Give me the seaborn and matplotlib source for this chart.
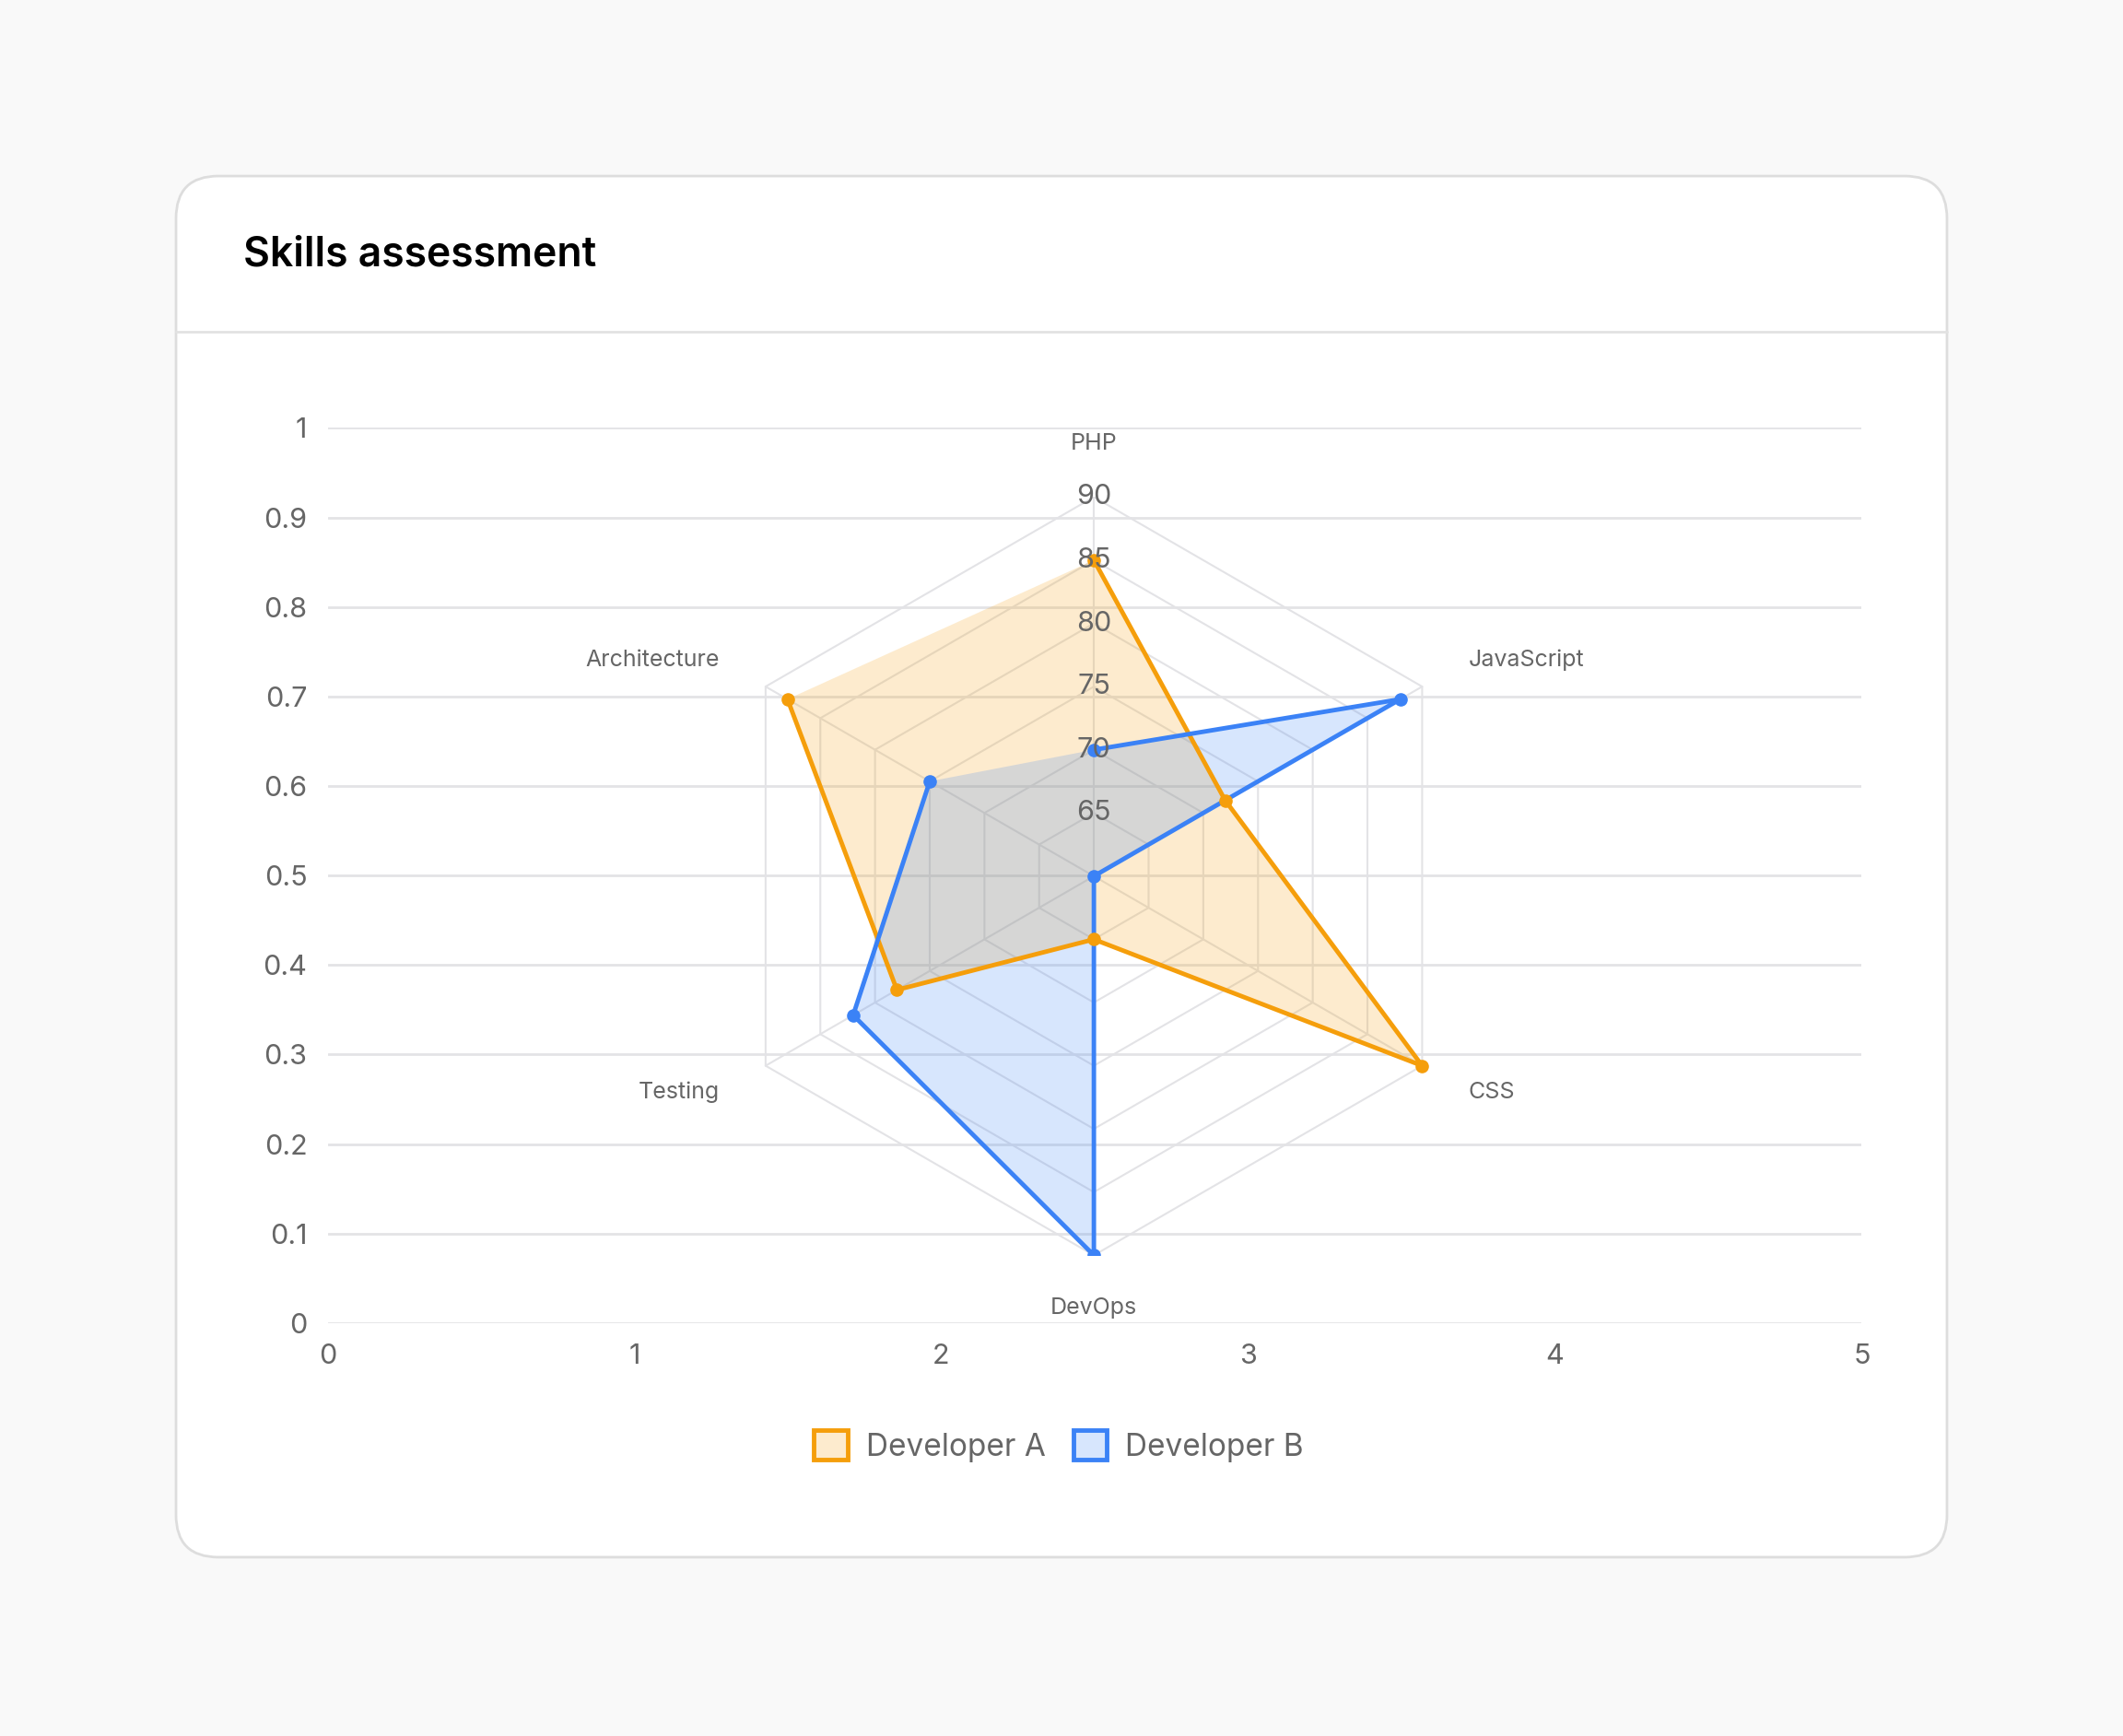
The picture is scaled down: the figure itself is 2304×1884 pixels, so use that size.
import numpy as np
import matplotlib
matplotlib.use("Agg")
import matplotlib.pyplot as plt
import seaborn as sns
from matplotlib.patches import FancyBboxPatch, Patch

skills = ["PHP", "JavaScript", "CSS", "DevOps", "Testing", "Architecture"]
dev_a = [85, 72, 90, 65, 78, 88]
dev_b = [70, 88, 60, 90, 82, 75]
r_ticks = [65, 70, 75, 80, 85, 90]
x_ticks = [0, 1, 2, 3, 4, 5]
y_ticks = [0, 0.1, 0.2, 0.3, 0.4, 0.5, 0.6, 0.7, 0.8, 0.9, 1]
r_min, r_max = 60, 90

ORANGE = "#f59e0b"
BLUE = "#3b82f6"
GRID = "#e3e3e6"
TXT = "#666666"

sns.set_style("white")
plt.rcParams["font.family"] = ["Inter", "DejaVu Sans"]

fig = plt.figure(figsize=(23.04, 18.84), dpi=100)
fig.patch.set_facecolor("#f9f9f9")

# card (drawn below the axes)
card = FancyBboxPatch((0.0829, 0.1030), 0.8342, 0.7956, boxstyle="round,pad=0,rounding_size=0.02",
                      transform=fig.transFigure, facecolor="white", edgecolor="#dddddd", linewidth=2,
                      mutation_aspect=2304 / 1884, zorder=-10)
fig.add_artist(card)
fig.add_artist(plt.Line2D([0.0829, 0.9171], [0.8089, 0.8089], transform=fig.transFigure,
                          color="#e2e2e2", linewidth=2, zorder=-9))
fig.text(0.1148, 0.8534, "Skills assessment", fontsize=32, fontweight="semibold", color="black",
         va="center", ha="left")

# cartesian background axes
ax = fig.add_axes([0.1543, 0.2379, 0.7226, 0.5156])
ax.set_xlim(0, 5)
ax.set_ylim(0, 1)
ax.set_xticks(x_ticks)
ax.set_yticks(y_ticks)
ax.set_yticklabels([f"{v:g}" for v in y_ticks])
ax.grid(axis="y", color=GRID, linewidth=2)
ax.grid(axis="x", visible=False)
ax.tick_params(labelsize=22, colors=TXT, length=0, pad=16)
for s in ax.spines.values():
    s.set_visible(False)
ax.set_facecolor("none")

# radar overlay
rx = fig.add_axes([0.3367, 0.2769, 0.3571, 0.4368])
rx.set_xlim(-1, 1)
rx.set_ylim(-1, 1)
rx.axis("off")
angles = np.pi / 2 - np.arange(len(skills)) * 2 * np.pi / len(skills)


def to_xy(vals):
    r = (np.array(vals, dtype=float) - r_min) / (r_max - r_min)
    return r * np.cos(angles), r * np.sin(angles)


for t in r_ticks:
    gx, gy = to_xy([t] * len(skills))
    rx.plot(np.append(gx, gx[0]), np.append(gy, gy[0]), color=GRID, linewidth=1.5, zorder=1)
for a in angles:
    rx.plot([0, np.cos(a)], [0, np.sin(a)], color=GRID, linewidth=1.5, zorder=1)

for vals, col in [(dev_a, ORANGE), (dev_b, BLUE)]:
    px, py = to_xy(vals)
    rx.fill(px, py, color=col, alpha=0.2, linewidth=0, zorder=2)
    sns.lineplot(x=np.append(px, px[0]), y=np.append(py, py[0]), sort=False, color=col,
                 linewidth=3.5, ax=rx, zorder=3)
    rx.scatter(px, py, s=90, color=col, edgecolor=col, zorder=4)

for t in r_ticks:
    y = (t - r_min) / (r_max - r_min)
    rx.text(0, y, str(t), fontsize=22, color=TXT, ha="center", va="center", zorder=5)

for name, a in zip(skills, angles):
    x, y = 1.14 * np.cos(a), 1.14 * np.sin(a)
    c = np.cos(a)
    ha = "center" if abs(c) < 0.1 else ("left" if c > 0 else "right")
    rx.text(x, y, name, fontsize=18, color=TXT, ha=ha, va="center")

handles = [Patch(facecolor=ORANGE + "33", edgecolor=ORANGE, linewidth=3.5, label="Developer A"),
           Patch(facecolor=BLUE + "33", edgecolor=BLUE, linewidth=3.5, label="Developer B")]
leg = fig.legend(handles=handles, loc="center", bbox_to_anchor=(0.4987, 0.1669), ncol=2, frameon=False,
                 fontsize=24, handlelength=1.1, handleheight=1.1, columnspacing=0.9, handletextpad=0.6)
for t in leg.get_texts():
    t.set_color(TXT)

fig.savefig("out.png", dpi=100, facecolor=fig.get_facecolor())
